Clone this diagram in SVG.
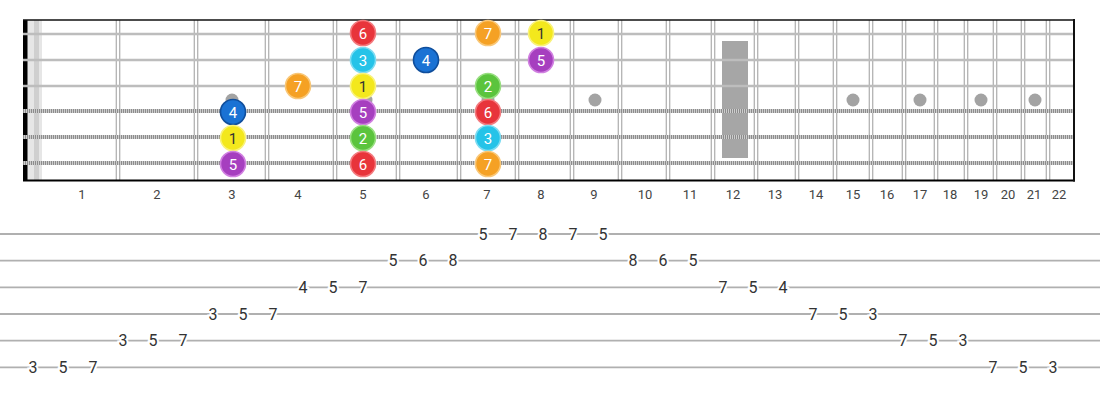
<svg xmlns="http://www.w3.org/2000/svg" width="1100" height="400" viewBox="0 0 1100 400">
<style>
.fw{stroke:#b3b3b3;stroke-width:1.3}
.ps{stroke:#bdbdbd;stroke-width:2.6}
.wb{stroke:#d4d4d4;stroke-width:4}
.wd{stroke:#8c8c8c;stroke-width:4;stroke-dasharray:1.1 0.9}
.dot{fill:#a3a3a3}
.fn{font-family:Roboto,"Liberation Sans",sans-serif;font-size:13px;fill:#444;text-anchor:middle}
.nt circle{stroke-width:1.6}
.nt text{font-family:Roboto,"Liberation Sans",sans-serif;font-size:15px;fill:#fff;text-anchor:middle}
.tl{stroke:#b0b0b0;stroke-width:1.8}
.tn{font-family:Roboto,"Liberation Sans",sans-serif;font-size:16px;fill:#333;text-anchor:middle;stroke:#fff;stroke-width:4;paint-order:stroke}
.red{fill:#e8343b;stroke:#f37a7e}
.ora{fill:#f5a124;stroke:#f9c777}
.yel{fill:#f3e81d;stroke:#f9f27a}
.cya{fill:#25c3e8;stroke:#7ddcf2}
.blu{fill:#1a72d4;stroke:#0f4e9c}
.pur{fill:#a63fbf;stroke:#d07fe0}
.gre{fill:#5bc43d;stroke:#98de80}
</style>
<rect x="0" y="0" width="1100" height="400" fill="#fff"/>
<g id="fretboard">
<rect x="27" y="20" width="15" height="161" fill="#e6e6e6"/>
<rect x="34" y="20" width="5" height="161" fill="#cfcfcf"/>
<rect x="23" y="20" width="4.5" height="161" fill="#000"/>
<g id="frets">
<line class="fw" x1="116.3" y1="20" x2="116.3" y2="181"/><line class="fw" x1="119.7" y1="20" x2="119.7" y2="181"/>
<line class="fw" x1="194.3" y1="20" x2="194.3" y2="181"/><line class="fw" x1="197.7" y1="20" x2="197.7" y2="181"/>
<line class="fw" x1="265.3" y1="20" x2="265.3" y2="181"/><line class="fw" x1="268.7" y1="20" x2="268.7" y2="181"/>
<line class="fw" x1="333.3" y1="20" x2="333.3" y2="181"/><line class="fw" x1="336.7" y1="20" x2="336.7" y2="181"/>
<line class="fw" x1="396.3" y1="20" x2="396.3" y2="181"/><line class="fw" x1="399.7" y1="20" x2="399.7" y2="181"/>
<line class="fw" x1="457.3" y1="20" x2="457.3" y2="181"/><line class="fw" x1="460.7" y1="20" x2="460.7" y2="181"/>
<line class="fw" x1="515.3" y1="20" x2="515.3" y2="181"/><line class="fw" x1="518.7" y1="20" x2="518.7" y2="181"/>
<line class="fw" x1="570.3" y1="20" x2="570.3" y2="181"/><line class="fw" x1="573.7" y1="20" x2="573.7" y2="181"/>
<line class="fw" x1="618.3" y1="20" x2="618.3" y2="181"/><line class="fw" x1="621.7" y1="20" x2="621.7" y2="181"/>
<line class="fw" x1="666.3" y1="20" x2="666.3" y2="181"/><line class="fw" x1="669.7" y1="20" x2="669.7" y2="181"/>
<line class="fw" x1="711.3" y1="20" x2="711.3" y2="181"/><line class="fw" x1="714.7" y1="20" x2="714.7" y2="181"/>
<line class="fw" x1="754.3" y1="20" x2="754.3" y2="181"/><line class="fw" x1="757.7" y1="20" x2="757.7" y2="181"/>
<line class="fw" x1="795.3" y1="20" x2="795.3" y2="181"/><line class="fw" x1="798.7" y1="20" x2="798.7" y2="181"/>
<line class="fw" x1="833.3" y1="20" x2="833.3" y2="181"/><line class="fw" x1="836.7" y1="20" x2="836.7" y2="181"/>
<line class="fw" x1="869.3" y1="20" x2="869.3" y2="181"/><line class="fw" x1="872.7" y1="20" x2="872.7" y2="181"/>
<line class="fw" x1="902.3" y1="20" x2="902.3" y2="181"/><line class="fw" x1="905.7" y1="20" x2="905.7" y2="181"/>
<line class="fw" x1="934.3" y1="20" x2="934.3" y2="181"/><line class="fw" x1="937.7" y1="20" x2="937.7" y2="181"/>
<line class="fw" x1="964.3" y1="20" x2="964.3" y2="181"/><line class="fw" x1="967.7" y1="20" x2="967.7" y2="181"/>
<line class="fw" x1="993.3" y1="20" x2="993.3" y2="181"/><line class="fw" x1="996.7" y1="20" x2="996.7" y2="181"/>
<line class="fw" x1="1021.3" y1="20" x2="1021.3" y2="181"/><line class="fw" x1="1024.7" y1="20" x2="1024.7" y2="181"/>
<line class="fw" x1="1046.3" y1="20" x2="1046.3" y2="181"/><line class="fw" x1="1049.7" y1="20" x2="1049.7" y2="181"/>
</g>
<rect x="722" y="41" width="26" height="117" fill="#a6a6a6"/>
<g id="inlays">
<circle class="dot" cx="232" cy="100" r="6.5"/>
<circle class="dot" cx="366" cy="100" r="6.5"/>
<circle class="dot" cx="488" cy="100" r="6.5"/>
<circle class="dot" cx="595" cy="100" r="6.5"/>
<circle class="dot" cx="853" cy="100" r="6.5"/>
<circle class="dot" cx="920" cy="100" r="6.5"/>
<circle class="dot" cx="981" cy="100" r="6.5"/>
<circle class="dot" cx="1035" cy="100" r="6.5"/>
</g>
<g id="strings">
<line class="ps" x1="23" y1="34" x2="1074" y2="34"/>
<line class="ps" x1="23" y1="60" x2="1074" y2="60"/>
<line class="ps" x1="23" y1="86" x2="1074" y2="86"/>
<line class="wb" x1="23" y1="111" x2="1074" y2="111"/><line class="wd" x1="23" y1="111" x2="1074" y2="111"/>
<line class="wb" x1="23" y1="137" x2="1074" y2="137"/><line class="wd" x1="23" y1="137" x2="1074" y2="137"/>
<line class="wb" x1="23" y1="163" x2="1074" y2="163"/><line class="wd" x1="23" y1="163" x2="1074" y2="163"/>
</g>
<line x1="23" y1="20" x2="1075" y2="20" stroke="#111" stroke-width="1.6"/>
<line x1="23" y1="180.5" x2="1075" y2="180.5" stroke="#000" stroke-width="2"/>
<line x1="1074" y1="19" x2="1074" y2="181.5" stroke="#111" stroke-width="2"/>
</g>
<g id="fret-numbers">
<text class="fn" x="82" y="199">1</text>
<text class="fn" x="157" y="199">2</text>
<text class="fn" x="232" y="199">3</text>
<text class="fn" x="298" y="199">4</text>
<text class="fn" x="363" y="199">5</text>
<text class="fn" x="426" y="199">6</text>
<text class="fn" x="487" y="199">7</text>
<text class="fn" x="541" y="199">8</text>
<text class="fn" x="594" y="199">9</text>
<text class="fn" x="645" y="199">10</text>
<text class="fn" x="690" y="199">11</text>
<text class="fn" x="733" y="199">12</text>
<text class="fn" x="775" y="199">13</text>
<text class="fn" x="816" y="199">14</text>
<text class="fn" x="853" y="199">15</text>
<text class="fn" x="887" y="199">16</text>
<text class="fn" x="920" y="199">17</text>
<text class="fn" x="950" y="199">18</text>
<text class="fn" x="981" y="199">19</text>
<text class="fn" x="1008" y="199">20</text>
<text class="fn" x="1034" y="199">21</text>
<text class="fn" x="1059" y="199">22</text>
</g>
<g id="notes">
<g id="n1-5" class="nt"><circle class="red" cx="363" cy="33" r="12.5"/><text x="363" y="38.5">6</text></g>
<g id="n1-7" class="nt"><circle class="ora" cx="488" cy="33" r="12.5"/><text x="488" y="38.5">7</text></g>
<g id="n1-8" class="nt"><circle class="yel" cx="541" cy="33" r="12.5"/><text x="541" y="38.5" style="fill:#333">1</text></g>
<g id="n2-5" class="nt"><circle class="cya" cx="363" cy="60" r="12.5"/><text x="363" y="65.5">3</text></g>
<g id="n2-6" class="nt"><circle class="blu" cx="426" cy="60" r="12.5"/><text x="426" y="65.5">4</text></g>
<g id="n2-8" class="nt"><circle class="pur" cx="541" cy="60" r="12.5"/><text x="541" y="65.5">5</text></g>
<g id="n3-4" class="nt"><circle class="ora" cx="298" cy="86" r="12.5"/><text x="298" y="91.5">7</text></g>
<g id="n3-5" class="nt"><circle class="yel" cx="363" cy="86" r="12.5"/><text x="363" y="91.5" style="fill:#333">1</text></g>
<g id="n3-7" class="nt"><circle class="gre" cx="488" cy="86" r="12.5"/><text x="488" y="91.5">2</text></g>
<g id="n4-3" class="nt"><circle class="blu" cx="233" cy="112" r="12.5"/><text x="233" y="117.5">4</text></g>
<g id="n4-5" class="nt"><circle class="pur" cx="363" cy="112" r="12.5"/><text x="363" y="117.5">5</text></g>
<g id="n4-7" class="nt"><circle class="red" cx="488" cy="112" r="12.5"/><text x="488" y="117.5">6</text></g>
<g id="n5-3" class="nt"><circle class="yel" cx="233" cy="138" r="12.5"/><text x="233" y="143.5" style="fill:#333">1</text></g>
<g id="n5-5" class="nt"><circle class="gre" cx="363" cy="138" r="12.5"/><text x="363" y="143.5">2</text></g>
<g id="n5-7" class="nt"><circle class="cya" cx="488" cy="138" r="12.5"/><text x="488" y="143.5">3</text></g>
<g id="n6-3" class="nt"><circle class="pur" cx="233" cy="164" r="12.5"/><text x="233" y="169.5">5</text></g>
<g id="n6-5" class="nt"><circle class="red" cx="363" cy="164" r="12.5"/><text x="363" y="169.5">6</text></g>
<g id="n6-7" class="nt"><circle class="ora" cx="488" cy="164" r="12.5"/><text x="488" y="169.5">7</text></g>
</g>
<g id="tab">
<line class="tl" x1="0" y1="234" x2="1100" y2="234"/>
<line class="tl" x1="0" y1="260.7" x2="1100" y2="260.7"/>
<line class="tl" x1="0" y1="287.3" x2="1100" y2="287.3"/>
<line class="tl" x1="0" y1="314" x2="1100" y2="314"/>
<line class="tl" x1="0" y1="340.7" x2="1100" y2="340.7"/>
<line class="tl" x1="0" y1="367.3" x2="1100" y2="367.3"/>
<text class="tn" x="33" y="373">3</text><text class="tn" x="63" y="373">5</text><text class="tn" x="93" y="373">7</text>
<text class="tn" x="123" y="346.4">3</text><text class="tn" x="153" y="346.4">5</text><text class="tn" x="183" y="346.4">7</text>
<text class="tn" x="213" y="319.7">3</text><text class="tn" x="243" y="319.7">5</text><text class="tn" x="273" y="319.7">7</text>
<text class="tn" x="303" y="293">4</text><text class="tn" x="333" y="293">5</text><text class="tn" x="363" y="293">7</text>
<text class="tn" x="393" y="266.4">5</text><text class="tn" x="423" y="266.4">6</text><text class="tn" x="453" y="266.4">8</text>
<text class="tn" x="483" y="239.7">5</text><text class="tn" x="513" y="239.7">7</text><text class="tn" x="543" y="239.7">8</text><text class="tn" x="573" y="239.7">7</text><text class="tn" x="603" y="239.7">5</text>
<text class="tn" x="633" y="266.4">8</text><text class="tn" x="663" y="266.4">6</text><text class="tn" x="693" y="266.4">5</text>
<text class="tn" x="723" y="293">7</text><text class="tn" x="753" y="293">5</text><text class="tn" x="783" y="293">4</text>
<text class="tn" x="813" y="319.7">7</text><text class="tn" x="843" y="319.7">5</text><text class="tn" x="873" y="319.7">3</text>
<text class="tn" x="903" y="346.4">7</text><text class="tn" x="933" y="346.4">5</text><text class="tn" x="963" y="346.4">3</text>
<text class="tn" x="993" y="373">7</text><text class="tn" x="1023" y="373">5</text><text class="tn" x="1053" y="373">3</text>
</g>
</svg>
